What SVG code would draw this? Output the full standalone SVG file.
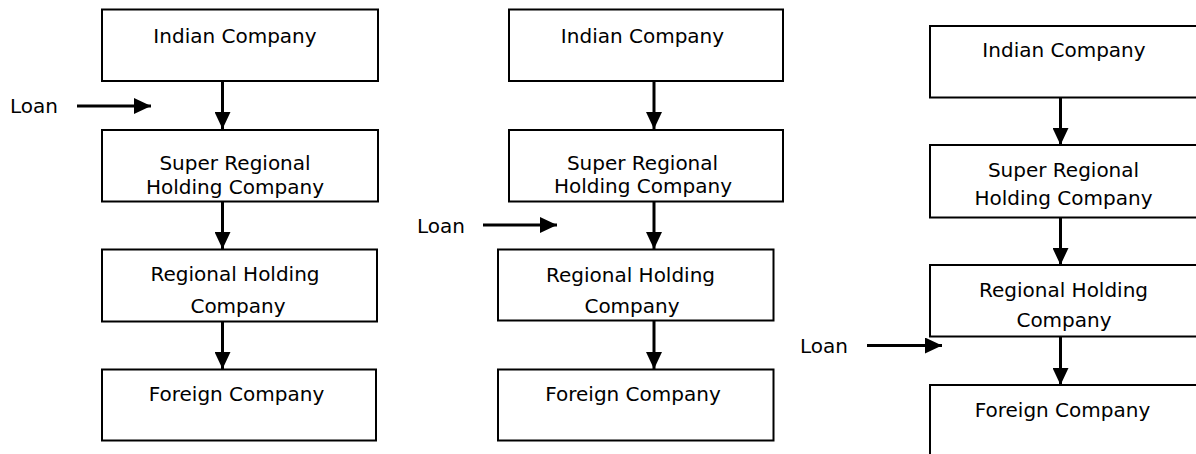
<svg xmlns="http://www.w3.org/2000/svg" width="1196" height="454" viewBox="0 0 1196 454">
<style>
.box{fill:#fff;stroke:#000;stroke-width:2}
.t{font-family:"DejaVu Sans","Liberation Sans",sans-serif;font-size:20px;fill:#000;text-anchor:middle}
.l{font-family:"DejaVu Sans","Liberation Sans",sans-serif;font-size:20px;fill:#000}
.c{stroke:#000;stroke-width:3;fill:none;marker-end:url(#ah)}
</style>
<defs>
<marker id="ah" markerUnits="userSpaceOnUse" markerWidth="17" markerHeight="16" refX="17" refY="8" orient="auto">
<path d="M0,0 L17,8 L0,16 Z" fill="#000"/>
</marker>
</defs>
<rect width="1196" height="454" fill="#fff"/>
<g id="c1-indian"><rect class="box" x="102" y="9.5" width="276" height="71.5"/><text class="t" x="235" y="43">Indian Company</text></g>
<g id="c1-super"><rect class="box" x="102" y="130" width="276" height="71.5"/><text class="t" x="235" y="170">Super Regional</text><text class="t" x="235" y="194">Holding Company</text></g>
<g id="c1-regional"><rect class="box" x="102" y="249.5" width="275" height="72"/><text class="t" x="235" y="281">Regional Holding</text><text class="t" x="238" y="313">Company</text></g>
<g id="c1-foreign"><rect class="box" x="102" y="369.5" width="274" height="71"/><text class="t" x="236.5" y="401">Foreign Company</text></g>
<g id="c1-loan"><text class="l" x="10" y="113">Loan</text></g>
<g id="c2-indian"><rect class="box" x="509" y="9.5" width="274" height="71.5"/><text class="t" x="642.5" y="43">Indian Company</text></g>
<g id="c2-super"><rect class="box" x="509" y="130" width="274" height="71.5"/><text class="t" x="642.5" y="170">Super Regional</text><text class="t" x="643" y="193">Holding Company</text></g>
<g id="c2-regional"><rect class="box" x="498" y="249.5" width="275.5" height="71"/><text class="t" x="630.5" y="282">Regional Holding</text><text class="t" x="632" y="313">Company</text></g>
<g id="c2-foreign"><rect class="box" x="498" y="369.5" width="275.5" height="71"/><text class="t" x="633" y="401">Foreign Company</text></g>
<g id="c2-loan"><text class="l" x="417" y="233">Loan</text></g>
<g id="c3-indian"><rect class="box" x="930" y="26" width="270" height="71.5"/><text class="t" x="1064" y="57">Indian Company</text></g>
<g id="c3-super"><rect class="box" x="930" y="145" width="270" height="72.5"/><text class="t" x="1063.5" y="177">Super Regional</text><text class="t" x="1063.5" y="205">Holding Company</text></g>
<g id="c3-regional"><rect class="box" x="930" y="265" width="270" height="71.5"/><text class="t" x="1063.5" y="297">Regional Holding</text><text class="t" x="1064" y="327">Company</text></g>
<g id="c3-foreign"><rect class="box" x="930" y="385" width="270" height="80"/><text class="t" x="1062.5" y="416.5">Foreign Company</text></g>
<g id="c3-loan"><text class="l" x="800" y="353">Loan</text></g>
<g id="connectors">
<line class="c" x1="222.5" y1="81" x2="222.5" y2="129"/>
<line class="c" x1="222.5" y1="201.5" x2="222.5" y2="249"/>
<line class="c" x1="222.5" y1="321.5" x2="222.5" y2="369"/>
<line class="c" x1="77" y1="106" x2="151" y2="106"/>
<line class="c" x1="654" y1="81" x2="654" y2="129"/>
<line class="c" x1="654" y1="201.5" x2="654" y2="249"/>
<line class="c" x1="654" y1="320.5" x2="654" y2="369"/>
<line class="c" x1="483" y1="225" x2="557" y2="225"/>
<line class="c" x1="1060.5" y1="97.5" x2="1060.5" y2="145"/>
<line class="c" x1="1060.5" y1="217.5" x2="1060.5" y2="265"/>
<line class="c" x1="1060.5" y1="336.5" x2="1060.5" y2="385"/>
<line class="c" x1="867" y1="345.5" x2="942" y2="345.5"/>
</g>
</svg>
